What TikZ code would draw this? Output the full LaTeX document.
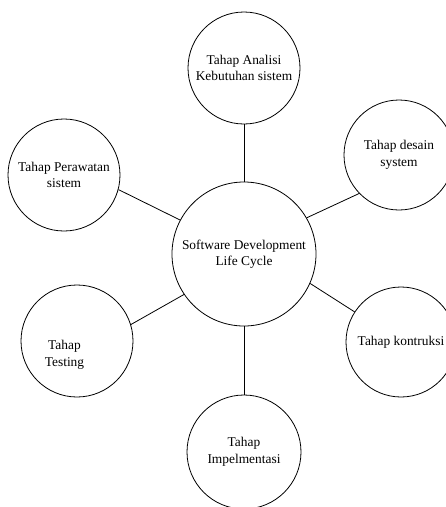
\documentclass[tikz,border=0pt]{standalone}
\usepackage{fontspec}
\setmainfont{Liberation Serif}
\begin{document}
\begin{tikzpicture}[
    x=1pt, y=-1pt,
    fasetext/.style={
      align=center,
      font=\fontsize{13.4}{16.5}\selectfont
    },
    fase/.style={
      fasetext,
      draw=black,
      line width=0.8pt,
      circle,
      inner sep=0pt,
      minimum size=112pt
    },
    pusat/.style={
      fase,
      minimum size=144pt
    },
    garis/.style={
      line width=0.8pt,
      black
    }
  ]

  \useasboundingbox (0,0) rectangle (446,507);
  \clip (0,0) rectangle (446,507);

  % lingkaran tengah
  \node[pusat] (sdlc) at (244,254) {Software Development\\Life Cycle};

  % tahap-tahap
  \node[fase] (analisi) at (244,68) {Tahap Analisi\\Kebutuhan sistem};
  \node[fase, minimum size=110pt] (desain) at (399,155) {Tahap desain\\system};
  \node[fase, minimum size=110pt] (kontruksi) at (401,342) {Tahap kontruksi};
  \node[fase, minimum size=114pt] (implementasi) at (244,452) {Tahap\\Impelmentasi};
  \node[fase, label={[fasetext, xshift=-12.5pt, yshift=-14pt]center:{Tahap\\Testing}}] (testing) at (77,341) {};
  \node[fase] (perawatan) at (64,175) {Tahap Perawatan\\sistem};

  % garis penghubung
  \draw[garis] (analisi.south) -- (sdlc.north);
  \draw[garis] (sdlc.30) -- (desain.224);
  \draw[garis] (sdlc.-24) -- (kontruksi.147);
  \draw[garis] (sdlc.south) -- (implementasi.north);
  \draw[garis] (sdlc.214) -- (testing.17);
  \draw[garis] (sdlc.152) -- (perawatan.-15);

\end{tikzpicture}
\end{document}
